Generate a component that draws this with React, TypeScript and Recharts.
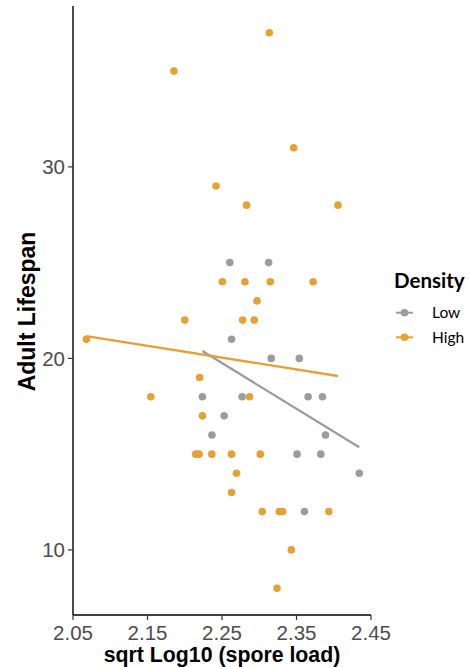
import { ScatterChart, Scatter, XAxis, YAxis } from "recharts";

// sqrt log10 spore load vs adult lifespan, by larval density
const lowX = [2.2605, 2.3126, 2.2628, 2.3161, 2.3538, 2.2237, 2.277, 2.3656, 2.3848, 2.2529, 2.2365, 2.3889, 2.3507, 2.3826, 2.4342, 2.3606];
const lowY = [25, 25, 21, 20, 20, 18, 18, 18, 18, 17, 16, 16, 15, 15, 14, 12];

const highX = [
  2.3134, 2.1855, 2.3463, 2.242, 2.283, 2.4056, 2.2505, 2.2807, 2.3148, 2.3723, 2.297, 2.2, 2.2776, 2.2933, 2.068, 2.22,
  2.1545, 2.287, 2.2237, 2.2147, 2.2192, 2.2363, 2.2628, 2.3014, 2.2695, 2.2628, 2.304, 2.3269, 2.3315, 2.3934, 2.343, 2.3238,
];
const highY = [37, 35, 31, 29, 28, 28, 24, 24, 24, 24, 23, 22, 22, 22, 21, 19, 18, 18, 17, 15, 15, 15, 15, 15, 14, 13, 12, 12, 12, 12, 10, 8];

// fitted lines (end points)
const fitLowX = [2.2237, 2.4342];
const fitLowY = [20.38, 15.36];
const fitHighX = [2.068, 2.4056];
const fitHighY = [21.16, 19.08];

const xTicks = [2.05, 2.15, 2.25, 2.35, 2.45];
const yTicks = [10, 20, 30];

const series = [
  { name: "Low", color: "#9C9C9C" },
  { name: "High", color: "#E5A136" },
];

const toRows = (xs: number[], ys: number[]) => xs.map((x, i) => ({ x, y: ys[i] }));

const lowData = toRows(lowX, lowY);
const highData = toRows(highX, highY);
const fitLow = toRows(fitLowX, fitLowY);
const fitHigh = toRows(fitHighX, fitHighY);

const FONT = "'Liberation Sans', Arial, sans-serif";

const dot = (color: string) => (props: any) => <circle cx={props.cx} cy={props.cy} r={3.8} fill={color} />;
const noDot = () => <g />;

function YTitle({ viewBox }: any) {
  const cx = 27;
  const cy = viewBox.y + viewBox.height / 2 + 1;
  return (
    <text
      x={cx}
      y={cy}
      transform={`rotate(-90, ${cx}, ${cy})`}
      textAnchor="middle"
      dominantBaseline="central"
      fontFamily={FONT}
      fontWeight="bold"
      fontSize={23}
      fill="#000"
    >
      Adult Lifespan
    </text>
  );
}

function XTitle({ viewBox }: any) {
  return (
    <text
      x={viewBox.x + viewBox.width / 2}
      y={662}
      textAnchor="middle"
      fontFamily={FONT}
      fontWeight="bold"
      fontSize={21.3}
      fill="#000"
    >
      sqrt Log10 (spore load)
    </text>
  );
}

function DensityLegend() {
  return (
    <svg width={81} height={82} style={{ display: "block", overflow: "visible" }}>
      <text x={6} y={20} fontFamily="Lato, sans-serif" fontWeight="bold" fontSize={20.5} fill="#000">
        Density
      </text>
      {series.map((s, i) => {
        const y = 44.7 + i * 24.6;
        return (
          <g key={s.name}>
            <line x1={8} x2={25} y1={y} y2={y} stroke={s.color} strokeWidth={2} />
            <circle cx={16.5} cy={y} r={3.8} fill={s.color} />
            <text x={44} y={y + 5.5} fontFamily="Lato, sans-serif" fontSize={15.5} fill="#000">
              {s.name}
            </text>
          </g>
        );
      })}
    </svg>
  );
}

export default function App() {
  return (
    <div style={{ width: 469, height: 667, background: "#fff", position: "relative", overflow: "hidden" }}>
      <style>{"body{margin:0}"}</style>
      <ScatterChart width={469} height={667} margin={{ top: 6, right: 98, bottom: 0, left: 0 }}>
        <XAxis
          type="number"
          dataKey="x"
          domain={[2.05, 2.45]}
          ticks={xTicks}
          tickFormatter={(v: number) => v.toFixed(2)}
          height={52}
          axisLine={{ stroke: "#000", strokeWidth: 1.4 }}
          tickLine={{ stroke: "#333", strokeWidth: 1.2 }}
          tickSize={5}
          tickMargin={5}
          tick={{ fill: "#4D4D4D", fontSize: 20.5, fontFamily: FONT }}
          label={<XTitle />}
          allowDataOverflow
        />
        <YAxis
          type="number"
          dataKey="y"
          domain={[6.6, 38.4]}
          ticks={yTicks}
          width={73}
          axisLine={{ stroke: "#000", strokeWidth: 1.4 }}
          tickLine={{ stroke: "#333", strokeWidth: 1.2 }}
          tickSize={5}
          tickMargin={3}
          tick={{ fill: "#4D4D4D", fontSize: 20.5, fontFamily: FONT }}
          label={<YTitle />}
          allowDataOverflow
        />
        <Scatter name="Low" data={lowData} shape={dot(series[0].color)} isAnimationActive={false} />
        <Scatter name="High" data={highData} shape={dot(series[1].color)} isAnimationActive={false} />
        <Scatter
          name="fitLow"
          data={fitLow}
          shape={noDot}
          line={{ stroke: series[0].color, strokeWidth: 2.3 }}
          legendType="none"
          isAnimationActive={false}
        />
        <Scatter
          name="fitHigh"
          data={fitHigh}
          shape={noDot}
          line={{ stroke: series[1].color, strokeWidth: 2.3 }}
          legendType="none"
          isAnimationActive={false}
        />
      </ScatterChart>
      <div style={{ position: "absolute", left: 388, top: 268 }}>
        <DensityLegend />
      </div>
    </div>
  );
}
